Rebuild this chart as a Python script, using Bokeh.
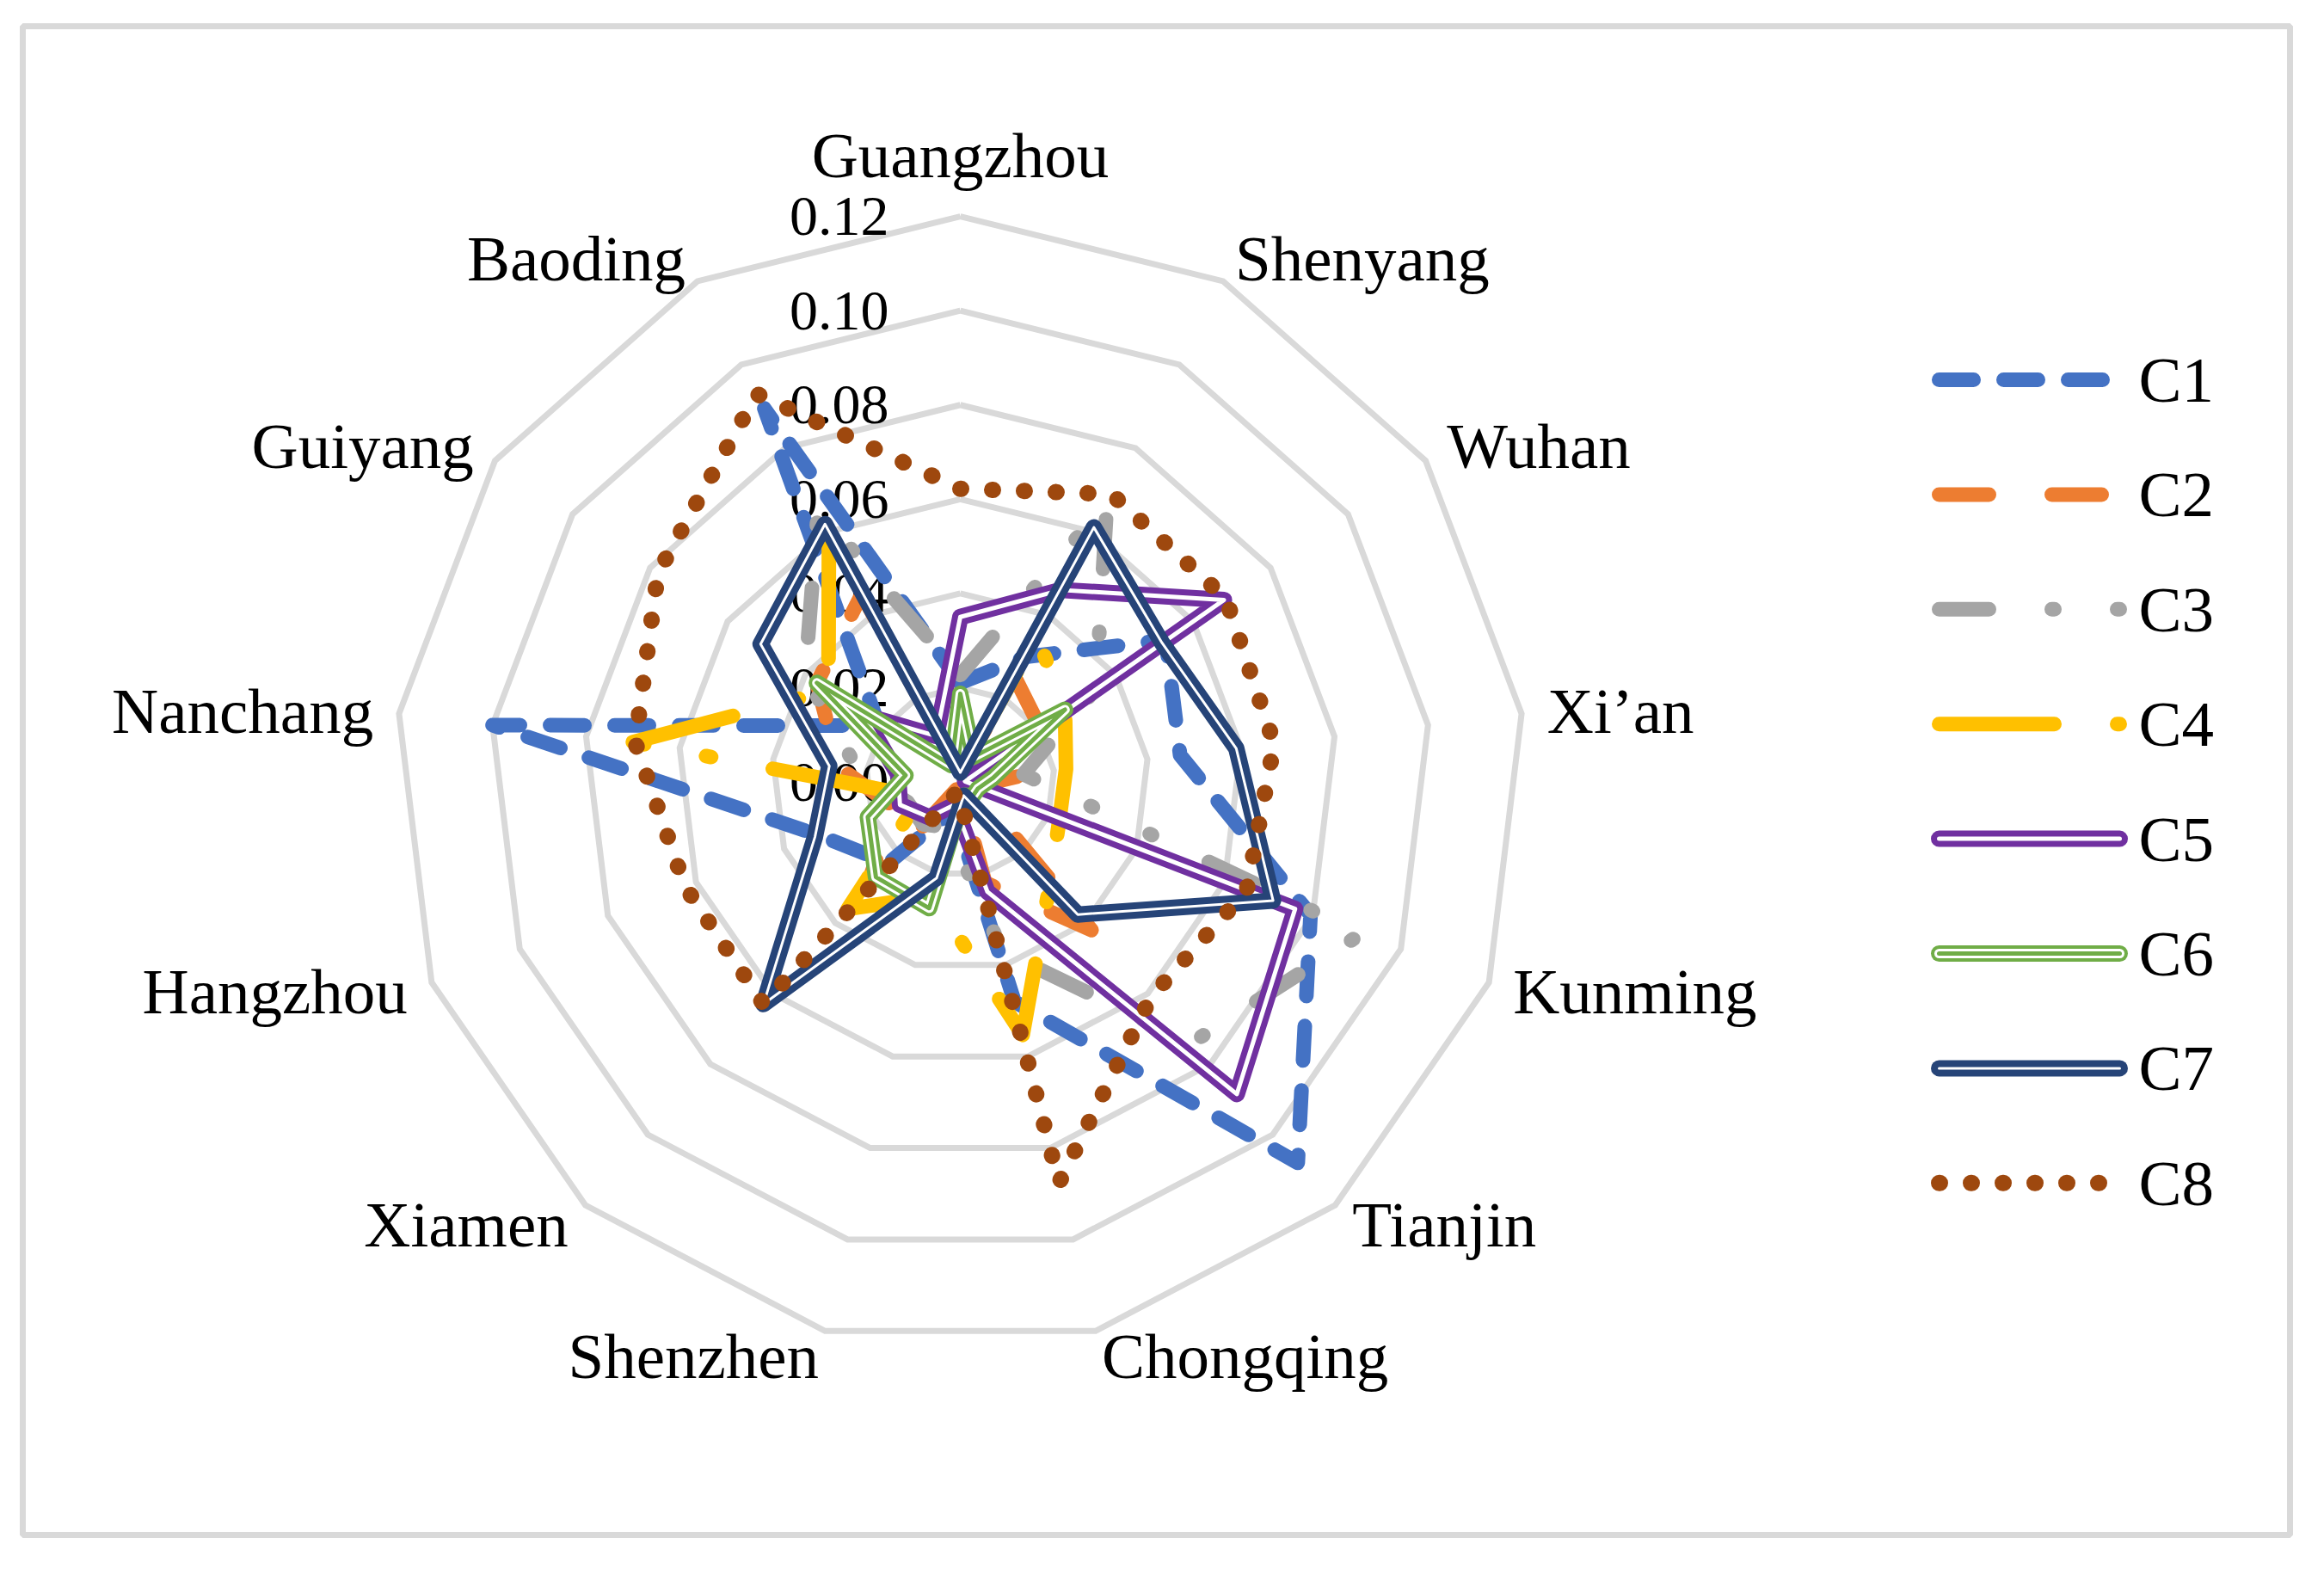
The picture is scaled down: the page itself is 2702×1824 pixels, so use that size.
import math
from bokeh.plotting import figure
from bokeh.models import Range1d
from bokeh.embed import file_html
from bokeh.resources import INLINE
from bokeh.core.properties import value

# ---------------- data ----------------
cities = ["Guangzhou", "Shenyang", "Wuhan", "Xi\u2019an", "Kunming", "Tianjin", "Chongqing",
          "Shenzhen", "Xiamen", "Hangzhou", "Nanchang", "Guiyang", "Baoding"]
tick_values = [0.00, 0.02, 0.04, 0.06, 0.08, 0.10, 0.12]
tick_labels = ["0.00", "0.02", "0.04", "0.06", "0.08", "0.10", "0.12"]
series_names = ["C1", "C2", "C3", "C4", "C5", "C6", "C7", "C8"]

C1 = [0.021, 0.030, 0.053, 0.047, 0.0795, 0.108, 0.048, 0.006, 0.023, 0.032, 0.100, 0.021, 0.0895]
C2 = [0.002, 0.025, 0.0205, 0.015, 0.003, 0.042, 0.022, 0.001, 0.030, 0.015, 0.026, 0.037, 0.045]
C3 = [0.0227, 0.067, 0.035, 0.0135, 0.091, 0.074, 0.037, 0.010, 0.012, 0.012, 0.022, 0.040, 0.065]
C4 = [0.002, 0.035, 0.027, 0.0226, 0.0225, 0.0287, 0.0553, 0.025, 0.036, 0.009, 0.070, 0.034, 0.060]
C5 = [0.035, 0.046, 0.068, 0.001, 0.076, 0.0885, 0.024, 0.005, 0.010, 0.0137, 0.0133, 0.025, 0.011]
C6 = [0.0187, 0.006, 0.027, 0.007, 0.004, 0.004, 0.003, 0.0276, 0.027, 0.021, 0.0117, 0.037, 0.004]
C7 = [0.002, 0.061, 0.052, 0.059, 0.071, 0.0376, 0.003, 0.021, 0.063, 0.033, 0.028, 0.0515, 0.0618]
C8 = [0.0622, 0.069, 0.0685, 0.0671, 0.065, 0.061, 0.0876, 0.002, 0.063, 0.0625, 0.0695, 0.078, 0.093]

series_values = [C1, C2, C3, C4, C5, C6, C7, C8]

# ---------------- layout ----------------
W, H = 2686, 1808
S = 5478.0                 # pixels per data unit (radius)
CX, CY = 1116.0, 908.5     # radar centre in figure pixels
BL, BT, BR, BB = 26, 30, 24, 24
fw, fh = W - BL - BR, H - BT - BB
cxf, cyf = CX - BL, CY - BT

p = figure(width=W, height=H,
           x_range=Range1d(-cxf / S, (fw - cxf) / S),
           y_range=Range1d(-(fh - cyf) / S, cyf / S),
           x_axis_type=None, y_axis_type=None,
           output_backend="svg", toolbar_location=None,
           min_border_left=BL, min_border_right=BR,
           min_border_top=BT, min_border_bottom=BB,
           outline_line_color="#D9D9D9", outline_line_width=7,
           background_fill_color="white", border_fill_color="white")


def px_to_data(X, Y):
    """figure pixel -> data coordinates"""
    return (X - CX) / S, (CY - Y) / S


n = len(cities)
angles = [2 * math.pi * k / n for k in range(n)]


def polar(vals):
    xs = [v * math.sin(a) for v, a in zip(vals, angles)]
    ys = [v * math.cos(a) for v, a in zip(vals, angles)]
    return xs + xs[:1], ys + ys[:1]


# grid rings
ring_xs, ring_ys = [], []
for t in tick_values[1:]:
    xs, ys = polar([t] * n)
    ring_xs.append(xs)
    ring_ys.append(ys)
p.multi_line(ring_xs, ring_ys, line_color="#D9D9D9", line_width=7, line_join="miter")

FONT = value("Liberation Serif")

# tick labels
tx = [(-83) / S] * len(tick_values)
p.text(x=tx, y=tick_values, text=tick_labels, text_font=FONT, text_font_size="66px",
       text_align="right", text_baseline="middle", text_color="black")

# category labels
lab_r = tick_values[-1] + 30 / S
for c, a in zip(cities, angles):
    sx, sy = math.sin(a), math.cos(a)
    if sx > 0.05:
        al = "left"
    elif sx < -0.05:
        al = "right"
    else:
        al = "center"
    bl = "bottom" if (abs(sx) < 0.05 and sy > 0) else "middle"
    p.text(x=[lab_r * sx], y=[lab_r * sy], text=[c], text_font=FONT, text_font_size="75px",
           text_align=al, text_baseline=bl, text_color="black")

# series styles: list of strokes (color, width, dash)
styles = [
    [("#4472C4", 17, "40 35")],
    [("#ED7D31", 17, "58 73")],
    [("#A5A5A5", 17, "58 73 3 73 3 73")],
    [("#FFC000", 17, "134 73 6 73")],
    [("#7030A0", 19, "solid"), ("white", 5, "solid")],
    [("#70AD47", 19, "solid"), ("white", 11, "solid"), ("#70AD47", 5, "solid")],
    [("#264478", 19, "solid"), ("white", 3, "solid")],
    [("#9E480E", 19, "1 36")],
]

for vals, st in zip(series_values, styles):
    xs, ys = polar(vals)
    for col, w, dash in st:
        p.line(xs, ys, line_color=col, line_width=w, line_dash=dash,
               line_cap="round", line_join="round")

# legend (drawn manually)
for i, (name, st) in enumerate(zip(series_names, styles)):
    yref = 441 + i * 133.4
    x0, y0 = px_to_data(2254, yref)
    x1, _ = px_to_data(2464, yref)
    for col, w, dash in st:
        p.line([x0, x1], [y0, y0], line_color=col, line_width=w, line_dash=dash,
               line_cap="round", line_join="round")
    tx0, _ = px_to_data(2486, yref)
    p.text(x=[tx0], y=[y0], text=[name], text_font=FONT, text_font_size="75px",
           text_align="left", text_baseline="middle", text_color="black")

open("out.html", "w").write(file_html(p, INLINE))
